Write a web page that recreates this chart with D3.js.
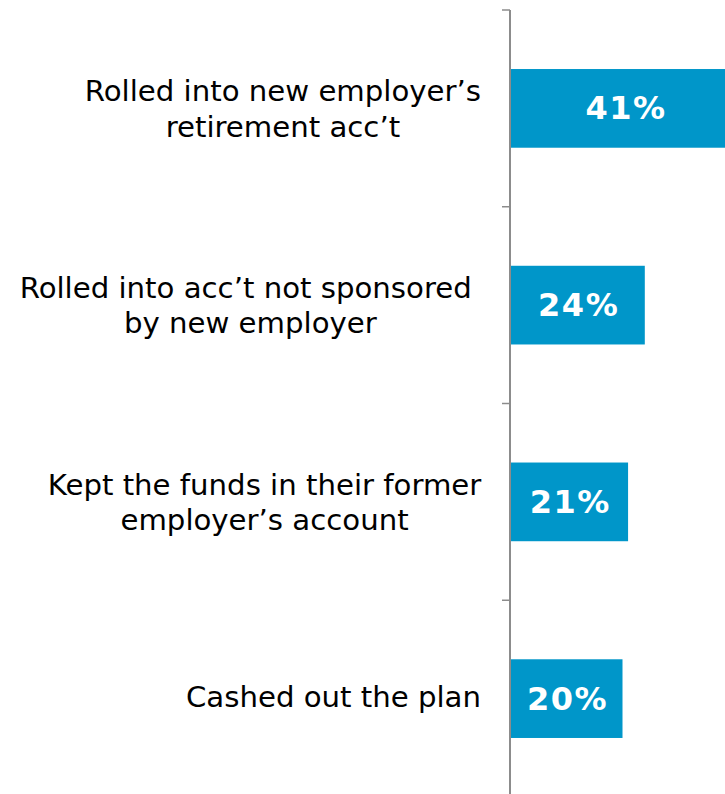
<!DOCTYPE html>
<html>
<head>
<meta charset="utf-8">
<script src="https://cdn.jsdelivr.net/npm/d3@7"></script>
<style>
  html, body { margin: 0; padding: 0; background: #fff; }
  svg { display: block; }
</style>
</head>
<body>
<svg id="chart" width="725" height="794"></svg>
<script>
// What people did with their old retirement plan after changing jobs
const categories = [
  "rolled-new-employer",
  "rolled-not-sponsored",
  "kept-funds",
  "cashed-out"
];
const labelLines = [
  ["Rolled into new employer\u2019s", "retirement acc\u2019t"],
  ["Rolled into acc\u2019t not sponsored ", "by new employer"],
  ["Kept the funds in their former", "employer\u2019s account"],
  ["Cashed out the plan"]
];
const shares = [0.41, 0.24, 0.21, 0.20];
const valueLabels = ["41%", "24%", "21%", "20%"];

const W = 725, H = 794;
const axisX = 510;
const labelRight = 481;
const barColor = "#0096C9";
const axisColor = "#8c8c8c";
const font = "'DejaVu Sans', Verdana, sans-serif";

const svg = d3.select("#chart");

// Row slots (boundaries carry the tick marks) and the bars inside them
const yRow = d3.scaleBand().domain(categories).range([10, 797]).padding(0);
const yBar = d3.scaleBand().domain(categories).range([10, 797])
  .paddingInner(0.6).paddingOuter(0.3);
const x = d3.scaleLinear().domain([0, 0.4]).range([axisX + 1, 734]);

// Bars
svg.append("g").selectAll("rect")
  .data(categories)
  .join("rect")
  .attr("x", x(0))
  .attr("y", d => yBar(d))
  .attr("width", (d, i) => x(shares[i]) - x(0))
  .attr("height", yBar.bandwidth())
  .attr("fill", barColor);

// Value labels, centred in each bar
const valueSpacing = 1.5;
svg.append("g").selectAll("text")
  .data(categories)
  .join("text")
  .attr("x", (d, i) => (x(0) + x(shares[i])) / 2 + valueSpacing / 2)
  .attr("y", d => yBar(d) + yBar.bandwidth() / 2 + 11)
  .attr("text-anchor", "middle")
  .attr("font-family", font)
  .attr("font-weight", "bold")
  .attr("font-size", 32)
  .attr("letter-spacing", valueSpacing)
  .attr("fill", "#fff")
  .text((d, i) => valueLabels[i]);

// Vertical axis line with ticks at the row boundaries
const axis = svg.append("g");
axis.append("line")
  .attr("x1", axisX).attr("x2", axisX)
  .attr("y1", yRow.range()[0]).attr("y2", H)
  .attr("stroke", axisColor).attr("stroke-width", 2);
axis.selectAll("line.tick")
  .data(categories)
  .join("line")
  .attr("class", "tick")
  .attr("x1", axisX - 8).attr("x2", axisX)
  .attr("y1", d => yRow(d)).attr("y2", d => yRow(d))
  .attr("stroke", axisColor).attr("stroke-width", 1.5);

// Category labels: lines centred on each other, block right-aligned
const labels = svg.append("g");
categories.forEach((c, i) => {
  const lines = labelLines[i];
  const cy = yBar(c) + yBar.bandwidth() / 2;
  const t = labels.append("text")
    .attr("font-family", font)
    .attr("font-size", 29.2)
    .attr("fill", "#000")
    .attr("text-anchor", "middle")
    .style("white-space", "pre");
  const spans = lines.map(s => t.append("tspan").text(s));
  const widest = d3.max(spans, s => s.node().getComputedTextLength());
  const cx = labelRight - widest / 2;
  const first = lines.length === 1 ? cy + 8.5 : cy - 7.25;
  spans.forEach((s, k) => s.attr("x", cx).attr("y", first + k * 35.5));
});
</script>
</body>
</html>
